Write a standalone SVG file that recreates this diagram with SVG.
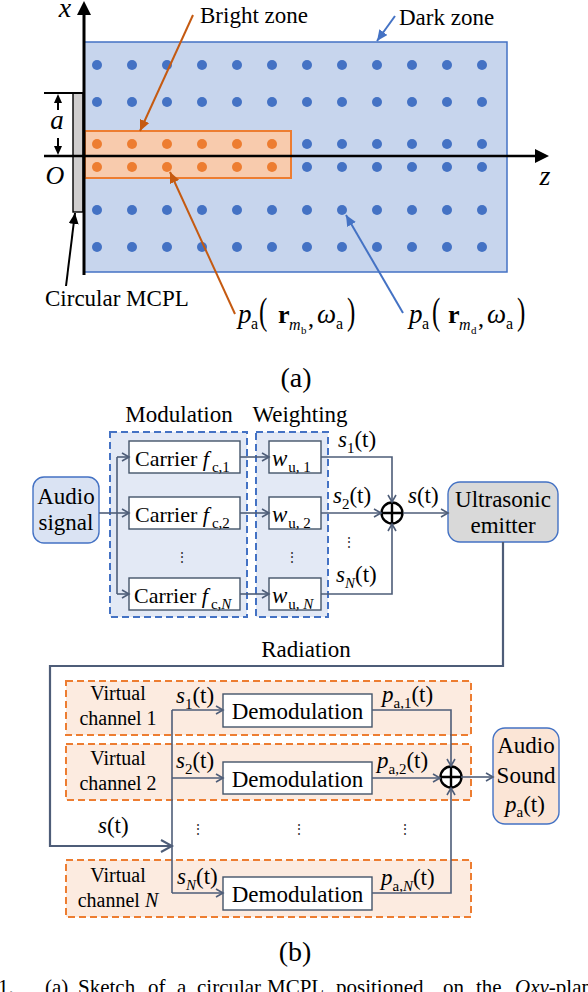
<svg xmlns="http://www.w3.org/2000/svg" xmlns:xlink="http://www.w3.org/1999/xlink" width="588" height="992" viewBox="0 0 588 992" font-family="'Liberation Serif', 'Times New Roman', serif">
<defs>
<style>
text{font-family:'Liberation Serif','Times New Roman',serif;fill:#000}
.it{font-style:italic}
.l23{font-size:23px}
.l22{font-size:22px}
.l20{font-size:20px}
.sub{font-size:15px}
.db{fill:#4472c4}
.do{fill:#ed7d31}
.conn{fill:none;stroke:#4e5d78;stroke-width:1.6}
.box{fill:#fff;stroke:#44546a;stroke-width:1.4}
.dashb{fill:#e3e9f5;stroke:#4472c4;stroke-width:2;stroke-dasharray:7 4}
.dasho{fill:#fcebe0;stroke:#ed7d31;stroke-width:2;stroke-dasharray:7 4}
.rnd{stroke:#4472c4;stroke-width:1.4}
.sum{fill:#fff;stroke:#000;stroke-width:2.4}
.dots{font-family:'DejaVu Serif',serif;font-size:14px;fill:#333}
</style>
<marker id="ah-o" markerUnits="userSpaceOnUse" markerWidth="12" markerHeight="10" refX="11" refY="5" orient="auto"><path d="M0,0 L11,5 L0,10 z" fill="#c55a11"/></marker>
<marker id="ah-b" markerUnits="userSpaceOnUse" markerWidth="12" markerHeight="10" refX="11" refY="5" orient="auto"><path d="M0,0 L11,5 L0,10 z" fill="#4472c4"/></marker>
<marker id="ah-k" markerUnits="userSpaceOnUse" markerWidth="12" markerHeight="10" refX="11" refY="5" orient="auto"><path d="M0,0 L11,5 L0,10 z" fill="#000"/></marker>
<marker id="ch" markerUnits="userSpaceOnUse" markerWidth="10" markerHeight="10" refX="8" refY="5" orient="auto" overflow="visible"><path d="M1,1 L8,5 L1,9" fill="none" stroke="#4e5d78" stroke-width="1.6"/></marker>
<marker id="chb" markerUnits="userSpaceOnUse" markerWidth="14" markerHeight="14" refX="12" refY="7" orient="auto" overflow="visible"><path d="M1,1 L12,7 L1,13" fill="none" stroke="#4e5d78" stroke-width="2"/></marker>
<g id="rowB">
<circle cx="97" cy="0" r="5"/><circle cx="132" cy="0" r="5"/><circle cx="167" cy="0" r="5"/><circle cx="202" cy="0" r="5"/><circle cx="237" cy="0" r="5"/><circle cx="272" cy="0" r="5"/>
<circle cx="307" cy="0" r="5"/><circle cx="342" cy="0" r="5"/><circle cx="377" cy="0" r="5"/><circle cx="412" cy="0" r="5"/><circle cx="447" cy="0" r="5"/><circle cx="482" cy="0" r="5"/>
</g>
<g id="rowM">
<g class="do"><circle cx="97" cy="0" r="5"/><circle cx="132" cy="0" r="5"/><circle cx="167" cy="0" r="5"/><circle cx="202" cy="0" r="5"/><circle cx="237" cy="0" r="5"/><circle cx="272" cy="0" r="5"/></g>
<g class="db"><circle cx="307" cy="0" r="5"/><circle cx="342" cy="0" r="5"/><circle cx="377" cy="0" r="5"/><circle cx="412" cy="0" r="5"/><circle cx="447" cy="0" r="5"/><circle cx="482" cy="0" r="5"/></g>
</g>
</defs>
<rect width="588" height="992" fill="#fff"/>

<!-- ===== Part (a) ===== -->
<g id="dark-zone">
<rect x="84" y="42" width="423" height="230" fill="#c7d5ed" stroke="#4472c4" stroke-width="1.5"/>
</g>
<g id="bright-zone">
<rect x="85" y="131" width="206" height="47" fill="#f8cbad" stroke="#ed7d31" stroke-width="2"/>
</g>
<g id="microphones">
<use xlink:href="#rowB" y="65" class="db"/>
<use xlink:href="#rowB" y="102" class="db"/>
<use xlink:href="#rowM" y="144"/>
<use xlink:href="#rowM" y="167"/>
<use xlink:href="#rowB" y="210" class="db"/>
<use xlink:href="#rowB" y="247" class="db"/>
</g>
<g id="mcpl">
<rect x="73" y="93" width="10" height="119" fill="#d0cece" stroke="#000" stroke-width="1.4"/>
</g>
<g id="axes">
<line x1="84" y1="14" x2="84" y2="275" stroke="#000" stroke-width="3"/>
<polygon points="84,1 77,15 91,15" fill="#000"/>
<line x1="44" y1="156" x2="537" y2="156" stroke="#000" stroke-width="2.5"/>
<polygon points="549,156 535,149 535,163" fill="#000"/>
<line x1="44" y1="93" x2="83" y2="93" stroke="#000" stroke-width="2"/>
<line x1="58" y1="101" x2="58" y2="110" stroke="#000" stroke-width="2"/>
<polygon points="58,94 54,103 62,103" fill="#000"/>
<line x1="58" y1="138" x2="58" y2="147" stroke="#000" stroke-width="2"/>
<polygon points="58,155 54,146 62,146" fill="#000"/>
<text class="it" x="65" y="17" font-size="28" text-anchor="middle">x</text>
<text class="it" x="545" y="185" font-size="28" text-anchor="middle">z</text>
<text class="it" x="57" y="129" font-size="27" text-anchor="middle">a</text>
<text class="it" x="55" y="184" font-size="26" text-anchor="middle">O</text>
</g>
<g id="labels-a">
<text class="l23" x="200" y="23">Bright zone</text>
<text class="l23" x="399" y="25">Dark zone</text>
<text class="l23" x="45" y="306">Circular MCPL</text>
</g>
<g id="label-pb">
<text class="it" x="238" y="323" font-size="27">p</text>
<text x="251" y="329" font-size="16">a</text>
<text transform="translate(259,324) scale(1,1.5)" font-size="25">(</text>
<text x="278" y="323" font-size="26" font-weight="bold">r</text>
<text class="it" x="289" y="330" font-size="16">m</text>
<text x="301" y="334" font-size="11">b</text>
<text x="308" y="326" font-size="24">,</text>
<text class="it" x="317" y="323" font-size="27">ω</text>
<text x="336" y="329" font-size="16">a</text>
<text transform="translate(347,324) scale(1,1.5)" font-size="25">)</text>
</g>
<g id="label-pd">
<text class="it" x="409" y="323" font-size="27">p</text>
<text x="422" y="329" font-size="16">a</text>
<text transform="translate(432,324) scale(1,1.5)" font-size="25">(</text>
<text x="448" y="323" font-size="26" font-weight="bold">r</text>
<text class="it" x="459" y="330" font-size="16">m</text>
<text x="471" y="334" font-size="11">d</text>
<text x="478" y="326" font-size="24">,</text>
<text class="it" x="487" y="323" font-size="27">ω</text>
<text x="506" y="329" font-size="16">a</text>
<text transform="translate(517,324) scale(1,1.5)" font-size="25">)</text>
</g>
<g id="leaders-a" stroke-width="2" fill="none">
<line x1="193" y1="15" x2="140" y2="131" stroke="#c55a11" marker-end="url(#ah-o)"/>
<line x1="395" y1="16" x2="377" y2="41" stroke="#4472c4" marker-end="url(#ah-b)"/>
<line x1="66" y1="286" x2="75" y2="213" stroke="#000" marker-end="url(#ah-k)"/>
<line x1="235" y1="314" x2="170" y2="172" stroke="#c55a11" marker-end="url(#ah-o)"/>
<line x1="403" y1="313" x2="346" y2="215" stroke="#4472c4" marker-end="url(#ah-b)"/>
</g>
<text x="296" y="387" font-size="28" text-anchor="middle">(a)</text>

<!-- ===== Part (b) upper ===== -->
<g id="modulation">
<rect class="dashb" x="110" y="432" width="137" height="185"/>
<text class="l23" x="179" y="422" text-anchor="middle">Modulation</text>
</g>
<g id="weighting">
<rect class="dashb" x="256" y="432" width="72" height="185"/>
<text class="l23" x="300" y="422" text-anchor="middle">Weighting</text>
</g>
<g id="audio-signal">
<rect x="33" y="477" width="66" height="66" rx="11" fill="#dae3f3" class="rnd"/>
<text class="l23" x="66" y="504" text-anchor="middle">Audio</text>
<text class="l23" x="66" y="530" text-anchor="middle">signal</text>
</g>
<g id="carrier-1">
<rect class="box" x="129" y="441" width="111" height="32"/>
<text class="l22" x="135" y="466">Carrier <tspan class="it">f</tspan><tspan class="sub" dx="3" dy="6">c,1</tspan></text>
</g>
<g id="carrier-2">
<rect class="box" x="129" y="497" width="111" height="32"/>
<text class="l22" x="135" y="522">Carrier <tspan class="it">f</tspan><tspan class="sub" dx="3" dy="6">c,2</tspan></text>
</g>
<g id="carrier-n">
<rect class="box" x="129" y="578" width="111" height="32"/>
<text class="l22" x="134" y="603">Carrier <tspan class="it">f</tspan><tspan class="sub" dx="3" dy="6">c,<tspan class="it">N</tspan></tspan></text>
</g>
<g id="w-1">
<rect class="box" x="269" y="441" width="52" height="32"/>
<text class="l23" x="272" y="466"><tspan class="it">w</tspan><tspan class="sub" dx="1" dy="6">u, 1</tspan></text>
</g>
<g id="w-2">
<rect class="box" x="269" y="497" width="52" height="32"/>
<text class="l23" x="272" y="522"><tspan class="it">w</tspan><tspan class="sub" dx="1" dy="6">u, 2</tspan></text>
</g>
<g id="w-n">
<rect class="box" x="269" y="578" width="52" height="32"/>
<text class="l23" x="272" y="603"><tspan class="it">w</tspan><tspan class="sub" dx="1" dy="6">u, <tspan class="it">N</tspan></tspan></text>
</g>
<g id="sum-1">
<circle class="sum" cx="392" cy="513" r="10.5"/>
<path d="M381.5,513 H402.5 M392,502.5 V523.5" stroke="#000" stroke-width="2.4"/>
</g>
<g id="emitter">
<rect x="448" y="482" width="110" height="60" rx="12" fill="#d9d9d9" class="rnd"/>
<text class="l23" x="503" y="507" text-anchor="middle">Ultrasonic</text>
<text class="l23" x="503" y="533" text-anchor="middle">emitter</text>
</g>
<g id="labels-b1">
<text class="l23" x="338" y="447"><tspan class="it">s</tspan><tspan class="sub" dy="6">1</tspan><tspan dy="-6">(t)</tspan></text>
<text class="l23" x="333" y="503"><tspan class="it">s</tspan><tspan class="sub" dy="6">2</tspan><tspan dy="-6">(t)</tspan></text>
<text class="l23" x="336" y="582"><tspan class="it">s</tspan><tspan class="sub it" dy="6">N</tspan><tspan dy="-6">(t)</tspan></text>
<text class="l23" x="408" y="503"><tspan class="it">s</tspan>(t)</text>
<text class="dots" x="182" y="562" text-anchor="middle">⋮</text>
<text class="dots" x="292" y="562" text-anchor="middle">⋮</text>
<text class="dots" x="349" y="547" text-anchor="middle">⋮</text>
<text class="l23" x="306" y="657" text-anchor="middle">Radiation</text>
</g>

<!-- ===== Part (b) lower ===== -->
<g id="channel-1">
<rect class="dasho" x="66" y="681" width="405" height="54"/>
<text class="l20" x="118" y="700" text-anchor="middle">Virtual</text>
<text class="l20" x="118" y="725" text-anchor="middle">channel 1</text>
</g>
<g id="channel-2">
<rect class="dasho" x="66" y="744" width="405" height="56"/>
<text class="l20" x="118" y="765" text-anchor="middle">Virtual</text>
<text class="l20" x="118" y="790" text-anchor="middle">channel 2</text>
</g>
<g id="channel-n">
<rect class="dasho" x="66" y="860" width="405" height="57"/>
<text class="l20" x="118" y="882" text-anchor="middle">Virtual</text>
<text class="l20" x="118" y="907" text-anchor="middle">channel <tspan class="it">N</tspan></text>
</g>
<g id="demod-1">
<rect class="box" x="223" y="694" width="149" height="33"/>
<text class="l23" x="297.5" y="719" text-anchor="middle">Demodulation</text>
</g>
<g id="demod-2">
<rect class="box" x="223" y="762" width="149" height="32"/>
<text class="l23" x="297.5" y="787" text-anchor="middle">Demodulation</text>
</g>
<g id="demod-n">
<rect class="box" x="223" y="877" width="149" height="33"/>
<text class="l23" x="297.5" y="902" text-anchor="middle">Demodulation</text>
</g>
<g id="sum-2">
<circle class="sum" cx="451" cy="777" r="10.5"/>
<path d="M440.5,777 H461.5 M451,766.5 V787.5" stroke="#000" stroke-width="2.4"/>
</g>
<g id="audio-sound">
<rect x="493" y="728" width="66" height="96" rx="12" fill="#fbe5d6" class="rnd"/>
<text class="l23" x="526" y="753" text-anchor="middle">Audio</text>
<text class="l23" x="526" y="783" text-anchor="middle">Sound</text>
<text class="l23" x="505" y="812"><tspan class="it">p</tspan><tspan class="sub" dy="5">a</tspan><tspan dy="-5">(t)</tspan></text>
</g>
<g id="labels-b2">
<text class="l23" x="176" y="703"><tspan class="it">s</tspan><tspan class="sub" dy="6">1</tspan><tspan dy="-6">(t)</tspan></text>
<text class="l23" x="176" y="768"><tspan class="it">s</tspan><tspan class="sub" dy="6">2</tspan><tspan dy="-6">(t)</tspan></text>
<text class="l23" x="177" y="884"><tspan class="it">s</tspan><tspan class="sub it" dy="6">N</tspan><tspan dy="-6">(t)</tspan></text>
<text class="l23" x="382" y="702"><tspan class="it">p</tspan><tspan class="sub" dy="6">a,1</tspan><tspan dy="-6">(t)</tspan></text>
<text class="l23" x="377" y="768"><tspan class="it">p</tspan><tspan class="sub" dy="6">a,2</tspan><tspan dy="-6">(t)</tspan></text>
<text class="l23" x="381" y="885"><tspan class="it">p</tspan><tspan class="sub" dy="6">a,<tspan class="it">N</tspan></tspan><tspan dy="-6">(t)</tspan></text>
<text class="l23" x="98" y="833"><tspan class="it">s</tspan>(t)</text>
<text class="dots" x="198" y="834" text-anchor="middle">⋮</text>
<text class="dots" x="299" y="834" text-anchor="middle">⋮</text>
<text class="dots" x="405" y="834" text-anchor="middle">⋮</text>
</g>

<g id="connectors" class="conn">
<path d="M99,513 H129" marker-end="url(#ch)"/>
<path d="M117,457 V594"/>
<path d="M117,457 H129" marker-end="url(#ch)"/>
<path d="M117,594 H129" marker-end="url(#ch)"/>
<path d="M240,457 H269" marker-end="url(#ch)"/>
<path d="M240,513 H269" marker-end="url(#ch)"/>
<path d="M240,594 H269" marker-end="url(#ch)"/>
<path d="M321,457 H392 V502" marker-end="url(#ch)"/>
<path d="M321,513 H381" marker-end="url(#ch)"/>
<path d="M321,594 H392 V524" marker-end="url(#ch)"/>
<path d="M403,513 H448" marker-end="url(#ch)"/>
<path d="M503,542 V666 H50 V846 H172" stroke-width="2.2" marker-end="url(#chb)"/>
<path d="M172,710 V893"/>
<path d="M172,710 H223" marker-end="url(#ch)"/>
<path d="M172,778 H223" marker-end="url(#ch)"/>
<path d="M172,893 H223" marker-end="url(#ch)"/>
<path d="M372,710 H451 V766" marker-end="url(#ch)"/>
<path d="M372,778 H440" marker-end="url(#ch)"/>
<path d="M372,893 H451 V788" marker-end="url(#ch)"/>
<path d="M461,777 H493" marker-end="url(#ch)"/>
</g>

<text x="295" y="961" font-size="28" text-anchor="middle">(b)</text>
<g id="caption" font-size="21">
<text x="-2" y="994">1.</text>
<text x="45" y="994">(a)</text>
<text x="78" y="994">Sketch</text>
<text x="148" y="994">of</text>
<text x="177" y="994">a</text>
<text x="197" y="994">circular</text>
<text x="267" y="994">MCPL</text>
<text x="336" y="994">positioned</text>
<text x="443" y="994">on</text>
<text x="476" y="994">the</text>
<text x="515" y="994"><tspan class="it">Oxy</tspan>-plane</text>
</g>
</svg>
